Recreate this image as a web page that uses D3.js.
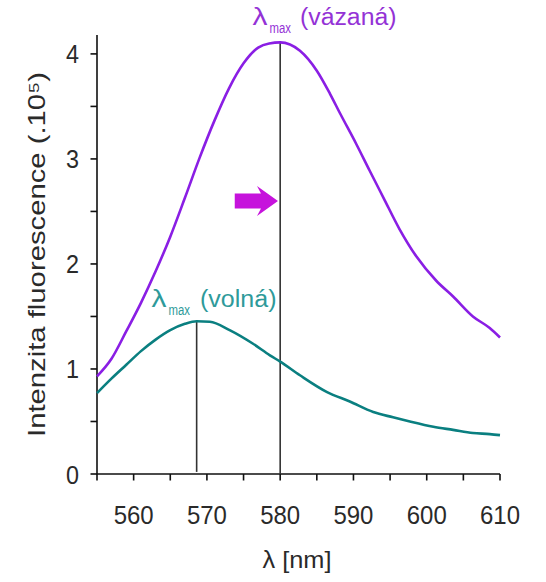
<!DOCTYPE html>
<html>
<head>
<meta charset="utf-8">
<script src="https://cdn.jsdelivr.net/npm/d3@7"></script>
<style>
  html, body { margin: 0; padding: 0; background: #fff; }
  svg { display: block; font-family: "Liberation Sans", Arial, sans-serif; }
</style>
</head>
<body>
<svg id="chart" width="546" height="582"></svg>
<script>
// ---- data ----
const boundWl = [555, 557, 559, 561, 563, 565, 567, 569, 571, 573, 575, 577, 578.5, 580, 582.7, 585.0, 586.8, 588.2, 590.4, 592.2, 594.1, 596.3, 598.6, 601.3, 603.6, 606.3, 608.6, 610];
const boundI  = [0.93, 1.10, 1.36, 1.63, 1.93, 2.26, 2.63, 3.01, 3.36, 3.67, 3.91, 4.06, 4.10, 4.11, 4.03, 3.84, 3.62, 3.43, 3.14, 2.89, 2.63, 2.33, 2.07, 1.84, 1.69, 1.50, 1.39, 1.30];
const freeWl  = [555, 557, 559, 561, 563, 565, 567, 568.6, 570.4, 573.1, 576.3, 578.6, 580.0, 582.7, 586.4, 589.5, 592.7, 595.4, 597.7, 600.9, 603.6, 606.3, 608.6, 610];
const freeI   = [0.77, 0.91, 1.04, 1.17, 1.28, 1.37, 1.43, 1.455, 1.45, 1.37, 1.24, 1.13, 1.07, 0.94, 0.78, 0.69, 0.59, 0.54, 0.50, 0.45, 0.42, 0.39, 0.38, 0.37];
const peakBound = [580, 4.11];
const peakFree  = [568.6, 1.455];
const arrowFrom = [573.8, 2.6];
const arrowTo   = [579.7, 2.6];
const xTicks = [555, 560, 565, 570, 575, 580, 585, 590, 595, 600, 605, 610];
const xTickLabels = [560, 570, 580, 590, 600, 610];
const yTicks = [0, 0.5, 1, 1.5, 2, 2.5, 3, 3.5, 4];
const yTickLabels = [0, 1, 2, 3, 4];
const labelBound = ["λ", "max", "(vázaná)"];
const labelFree  = ["λ", "max", "(volná)"];
const xTitle = "λ [nm]";
const yTitle = "Intenzita fluorescence (.10⁵)";

// ---- layout ----
const svg = d3.select("#chart");
const x = d3.scaleLinear().domain([555, 610]).range([97, 500]);
const y = d3.scaleLinear().domain([0, 4.18]).range([474, 35]);

const purple = "#8a1ee4", teal = "#0a7f80", axisCol = "#111", textCol = "#2a2a2a";

// axis lines
svg.append("path")
  .attr("d", `M${x(555)},${y(4.18)} V${y(0)} H${x(610)}`)
  .attr("fill", "none").attr("stroke", axisCol).attr("stroke-width", 1.6);

// ticks
svg.append("g").selectAll("rect").data(xTicks).join("rect")
  .attr("x", d => x(d) - 0.8).attr("y", y(0)).attr("width", 1.6).attr("height", 6.5)
  .attr("fill", axisCol);
svg.append("g").selectAll("rect").data(yTicks).join("rect")
  .attr("x", x(555) - 6.5).attr("y", d => y(d) - 0.8).attr("width", 6.5).attr("height", 1.6)
  .attr("fill", axisCol);

// tick labels
svg.append("g").selectAll("text").data(xTickLabels).join("text")
  .attr("x", d => x(d)).attr("y", 524).attr("text-anchor", "middle")
  .attr("font-size", 26).attr("fill", textCol)
  .attr("textLength", 40).attr("lengthAdjust", "spacingAndGlyphs")
  .text(d => d);
svg.append("g").selectAll("text").data(yTickLabels).join("text")
  .attr("x", 79).attr("y", d => y(d) + 9.5).attr("text-anchor", "end")
  .attr("font-size", 26).attr("fill", textCol)
  .attr("textLength", 13).attr("lengthAdjust", "spacingAndGlyphs")
  .text(d => d);

// axis titles
svg.append("text")
  .attr("x", 297).attr("y", 568).attr("text-anchor", "middle")
  .attr("font-size", 24).attr("fill", textCol)
  .attr("textLength", 69).attr("lengthAdjust", "spacingAndGlyphs")
  .text(xTitle);
svg.append("text")
  .attr("transform", "translate(45,254.5) rotate(-90)")
  .attr("text-anchor", "middle")
  .attr("font-size", 24).attr("fill", textCol)
  .attr("textLength", 365).attr("lengthAdjust", "spacingAndGlyphs")
  .text(yTitle);

// peak lines
svg.append("line")
  .attr("x1", x(peakBound[0])).attr("x2", x(peakBound[0]))
  .attr("y1", y(peakBound[1])).attr("y2", y(0))
  .attr("stroke", "#333").attr("stroke-width", 1.6);
svg.append("line")
  .attr("x1", x(peakFree[0])).attr("x2", x(peakFree[0]))
  .attr("y1", y(peakFree[1])).attr("y2", y(0.02))
  .attr("stroke", "#333").attr("stroke-width", 1.6);

// curves
const line = d3.line().x(d => x(d[0])).y(d => y(d[1])).curve(d3.curveMonotoneX);
svg.append("path")
  .datum(freeWl.map((w, i) => [w, freeI[i]]))
  .attr("d", line).attr("fill", "none")
  .attr("stroke", teal).attr("stroke-width", 2.6).attr("stroke-linejoin", "round");
svg.append("path")
  .datum(boundWl.map((w, i) => [w, boundI[i]]))
  .attr("d", line).attr("fill", "none")
  .attr("stroke", purple).attr("stroke-width", 2.6).attr("stroke-linejoin", "round");

// arrow
const ax0 = x(arrowFrom[0]), ax1 = x(arrowTo[0]), ay = y(arrowTo[1]);
const headLen = 17, bodyHalf = 7.5, headHalf = 15;
svg.append("path")
  .attr("d", `M${ax0},${ay - bodyHalf} L${ax1 - headLen},${ay - bodyHalf} L${ax1 - headLen - 4},${ay - headHalf} L${ax1},${ay} L${ax1 - headLen - 4},${ay + headHalf} L${ax1 - headLen},${ay + bodyHalf} L${ax0},${ay + bodyHalf} Z`)
  .attr("fill", "#c613dc");

// peak labels
function peakLabel(parts, x0, xSub, xParen, parenLen, base, color) {
  svg.append("text").attr("x", x0).attr("y", base)
    .attr("font-size", 23).attr("fill", color)
    .attr("textLength", 15).attr("lengthAdjust", "spacingAndGlyphs").text(parts[0]);
  svg.append("text").attr("x", xSub).attr("y", base + 8)
    .attr("font-size", 14).attr("fill", color)
    .attr("textLength", 21.5).attr("lengthAdjust", "spacingAndGlyphs").text(parts[1]);
  svg.append("text").attr("x", xParen).attr("y", base)
    .attr("font-size", 23).attr("fill", color)
    .attr("textLength", parenLen).attr("lengthAdjust", "spacingAndGlyphs").text(parts[2]);
}
peakLabel(labelBound, 252.5, 269.5, 300, 96.5, 25, "#9432d6");
peakLabel(labelFree, 151.5, 168.5, 200, 76.5, 306.5, "#2e9a9a");
</script>
</body>
</html>
